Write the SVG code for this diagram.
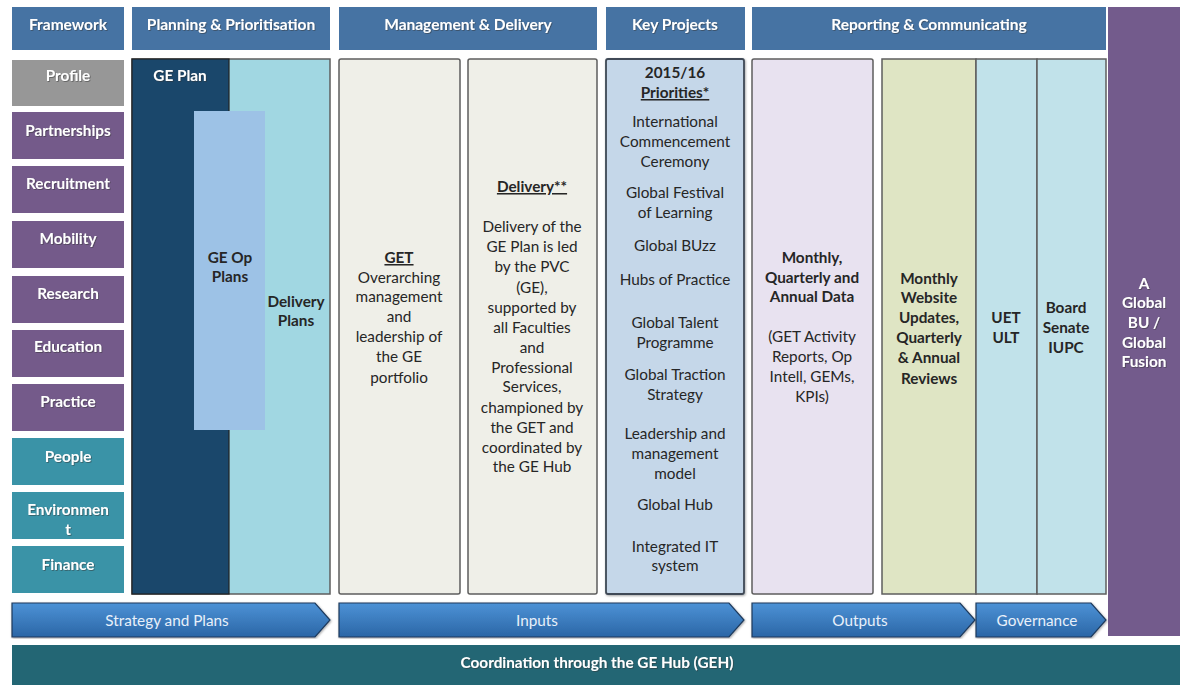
<svg xmlns="http://www.w3.org/2000/svg" width="1180" height="685" viewBox="0 0 1180 685">
  <defs>
    <linearGradient id="arrowFill" x1="0" y1="0" x2="0" y2="1">
      <stop offset="0" stop-color="#4d92d6"/>
      <stop offset="1" stop-color="#2b66a6"/>
    </linearGradient>
    <filter id="txtShadow" x="-10%" y="-30%" width="120%" height="160%">
      <feDropShadow dx="0.8" dy="0.8" stdDeviation="0.6" flood-color="#333" flood-opacity="0.6"/>
    </filter>
    <filter id="boxShadow" x="-5%" y="-5%" width="110%" height="110%">
      <feDropShadow dx="0.8" dy="1" stdDeviation="0.8" flood-color="#000" flood-opacity="0.35"/>
    </filter>
  </defs>
  <style>
    text { font-family: Lato, "Liberation Sans", sans-serif; text-anchor: middle; }
    .hdr { fill: #4673a3; }
    .hdrT { fill: #ffffff; font-size: 15.5px; font-weight: bold; filter: url(#txtShadow); }
    .fwT { fill: #ffffff; font-size: 15.3px; font-weight: bold; filter: url(#txtShadow); }
    .purple { fill: #745a8a; }
    .teal { fill: #3a93a7; }
    .grey { fill: #979797; }
    .body { fill: #262626; font-size: 15.3px; }
    .bold { font-weight: bold; }
    .ul { text-decoration: underline; }
    .panel { stroke: #5e5e5e; stroke-width: 1.5; }
    .arrow { fill: url(#arrowFill); stroke: #1e3a5c; stroke-width: 1.2; filter: url(#boxShadow); }
    .arrowT { fill: #e8f0fa; font-size: 15.3px; }
    .whiteB { fill: #ffffff; font-size: 15.3px; font-weight: bold; filter: url(#txtShadow); }
  </style>

  <rect width="1180" height="685" fill="#ffffff"/>

  <!-- column headers -->
  <g id="hdr-framework"><rect class="hdr" x="12" y="7" width="112" height="43"/><text class="hdrT" x="68" y="30">Framework</text></g>
  <g id="hdr-planning"><rect class="hdr" x="132" y="7" width="198" height="43"/><text class="hdrT" x="231" y="30">Planning &amp; Prioritisation</text></g>
  <g id="hdr-management"><rect class="hdr" x="339" y="7" width="258" height="43"/><text class="hdrT" x="468" y="30">Management &amp; Delivery</text></g>
  <g id="hdr-projects"><rect class="hdr" x="606" y="7" width="139" height="43"/><text class="hdrT" x="675" y="30">Key Projects</text></g>
  <g id="hdr-reporting"><rect class="hdr" x="752" y="7" width="354" height="43"/><text class="hdrT" x="929" y="30">Reporting &amp; Communicating</text></g>

  <!-- framework themes -->
  <g id="fw-profile"><rect class="grey" x="12" y="60" width="112" height="46"/><text class="fwT" x="68" y="81">Profile</text></g>
  <g id="fw-partnerships"><rect class="purple" x="12" y="112" width="112" height="47"/><text class="fwT" x="68" y="136">Partnerships</text></g>
  <g id="fw-recruitment"><rect class="purple" x="12" y="166" width="112" height="47"/><text class="fwT" x="68" y="189">Recruitment</text></g>
  <g id="fw-mobility"><rect class="purple" x="12" y="221" width="112" height="47"/><text class="fwT" x="68" y="244">Mobility</text></g>
  <g id="fw-research"><rect class="purple" x="12" y="276" width="112" height="47"/><text class="fwT" x="68" y="299">Research</text></g>
  <g id="fw-education"><rect class="purple" x="12" y="330" width="112" height="47"/><text class="fwT" x="68" y="352">Education</text></g>
  <g id="fw-practice"><rect class="purple" x="12" y="384" width="112" height="47"/><text class="fwT" x="68" y="407">Practice</text></g>
  <g id="fw-people"><rect class="teal" x="12" y="438" width="112" height="47"/><text class="fwT" x="68" y="462">People</text></g>
  <g id="fw-environment"><rect class="teal" x="12" y="492" width="112" height="47"/><text class="fwT" x="68" y="515">Environmen</text><text class="fwT" x="68" y="535">t</text></g>
  <g id="fw-finance"><rect class="teal" x="12" y="546" width="112" height="47"/><text class="fwT" x="68" y="570">Finance</text></g>

  <!-- planning: GE Plan, GE Op Plans, Delivery Plans -->
  <g id="delivery-plans">
    <rect x="132" y="59" width="198" height="535" fill="#a1d7e2" class="panel"/>
    <text class="body bold" x="296" y="307">Delivery</text>
    <text class="body bold" x="296" y="326">Plans</text>
  </g>
  <g id="ge-plan">
    <rect x="132" y="59" width="97" height="535" fill="#1a476b" stroke="#222" stroke-width="1.2"/>
    <text class="whiteB" x="180" y="81">GE Plan</text>
  </g>
  <g id="ge-op-plans">
    <rect x="194" y="111" width="71" height="319" fill="#9dc2e6"/>
    <text class="body bold" x="230" y="263">GE Op</text>
    <text class="body bold" x="230" y="282">Plans</text>
  </g>

  <!-- management & delivery -->
  <g id="get">
    <rect x="339" y="59" width="121" height="535" rx="2" fill="#efefe8" class="panel"/>
    <text class="body bold ul" x="399" y="263">GET</text>
    <text class="body" x="399" y="283">Overarching</text>
    <text class="body" x="399" y="302">management</text>
    <text class="body" x="399" y="322">and</text>
    <text class="body" x="399" y="342">leadership of</text>
    <text class="body" x="399" y="362">the GE</text>
    <text class="body" x="399" y="383">portfolio</text>
  </g>
  <g id="delivery">
    <rect x="468" y="59" width="129" height="535" rx="2" fill="#efefe8" class="panel"/>
    <text class="body bold ul" x="532" y="192">Delivery**</text>
    <text class="body" x="532" y="232">Delivery of the</text>
    <text class="body" x="532" y="252">GE Plan is led</text>
    <text class="body" x="532" y="272">by the PVC</text>
    <text class="body" x="532" y="293">(GE),</text>
    <text class="body" x="532" y="313">supported by</text>
    <text class="body" x="532" y="333">all Faculties</text>
    <text class="body" x="532" y="353">and</text>
    <text class="body" x="532" y="373">Professional</text>
    <text class="body" x="532" y="392">Services,</text>
    <text class="body" x="532" y="413">championed by</text>
    <text class="body" x="532" y="433">the GET and</text>
    <text class="body" x="532" y="453">coordinated by</text>
    <text class="body" x="532" y="472">the GE Hub</text>
  </g>

  <!-- key projects -->
  <g id="priorities">
    <rect x="606" y="59" width="138" height="535" rx="2" fill="#c5d7e9" stroke="#3f4a56" stroke-width="1.8" filter="url(#boxShadow)"/>
    <text class="body bold" x="675" y="78">2015/16</text>
    <text class="body bold ul" x="675" y="98">Priorities*</text>
    <text class="body" x="675" y="127">International</text>
    <text class="body" x="675" y="147">Commencement</text>
    <text class="body" x="675" y="167">Ceremony</text>
    <text class="body" x="675" y="198">Global Festival</text>
    <text class="body" x="675" y="218">of Learning</text>
    <text class="body" x="675" y="251">Global BUzz</text>
    <text class="body" x="675" y="285">Hubs of Practice</text>
    <text class="body" x="675" y="328">Global Talent</text>
    <text class="body" x="675" y="348">Programme</text>
    <text class="body" x="675" y="380">Global Traction</text>
    <text class="body" x="675" y="400">Strategy</text>
    <text class="body" x="675" y="439">Leadership and</text>
    <text class="body" x="675" y="459">management</text>
    <text class="body" x="675" y="479">model</text>
    <text class="body" x="675" y="510">Global Hub</text>
    <text class="body" x="675" y="552">Integrated IT</text>
    <text class="body" x="675" y="571">system</text>
  </g>

  <!-- reporting & communicating -->
  <g id="data">
    <rect x="752" y="59" width="121" height="535" rx="2" fill="#e8e2f0" class="panel"/>
    <text class="body bold" x="812" y="263">Monthly,</text>
    <text class="body bold" x="812" y="283">Quarterly and</text>
    <text class="body bold" x="812" y="302">Annual Data</text>
    <text class="body" x="812" y="342">(GET Activity</text>
    <text class="body" x="812" y="362">Reports, Op</text>
    <text class="body" x="812" y="382">Intell, GEMs,</text>
    <text class="body" x="812" y="402">KPIs)</text>
  </g>
  <g id="website">
    <rect x="882" y="59" width="94" height="535" fill="#dfe5c4" class="panel"/>
    <text class="body bold" x="929" y="284">Monthly</text>
    <text class="body bold" x="929" y="303">Website</text>
    <text class="body bold" x="929" y="323">Updates,</text>
    <text class="body bold" x="929" y="343">Quarterly</text>
    <text class="body bold" x="929" y="363">&amp; Annual</text>
    <text class="body bold" x="929" y="384">Reviews</text>
  </g>
  <g id="uet">
    <rect x="976" y="59" width="61" height="535" fill="#c1e2ea" class="panel"/>
    <text class="body bold" x="1006" y="323">UET</text>
    <text class="body bold" x="1006" y="343">ULT</text>
  </g>
  <g id="board">
    <rect x="1037" y="59" width="69" height="535" fill="#c1e2ea" class="panel"/>
    <text class="body bold" x="1066" y="313">Board</text>
    <text class="body bold" x="1066" y="333">Senate</text>
    <text class="body bold" x="1066" y="353">IUPC</text>
  </g>

  <!-- outcome column -->
  <g id="global-fusion">
    <rect x="1108" y="7" width="72" height="629" fill="#735b8c"/>
    <text class="whiteB" x="1144" y="289">A</text>
    <text class="whiteB" x="1144" y="308">Global</text>
    <text class="whiteB" x="1144" y="328">BU /</text>
    <text class="whiteB" x="1144" y="348">Global</text>
    <text class="whiteB" x="1144" y="367">Fusion</text>
  </g>

  <!-- flow chevrons -->
  <g id="connectors">
    <g id="flow-strategy">
      <polygon class="arrow" points="12,603 315,603 330,620 315,637 12,637"/>
      <text class="arrowT" x="167" y="626">Strategy and Plans</text>
    </g>
    <g id="flow-inputs">
      <polygon class="arrow" points="339,603 729,603 744,620 729,637 339,637"/>
      <text class="arrowT" x="537" y="626">Inputs</text>
    </g>
    <g id="flow-outputs">
      <polygon class="arrow" points="752,603 960,603 975,620 960,637 752,637"/>
      <text class="arrowT" x="860" y="626">Outputs</text>
    </g>
    <g id="flow-governance">
      <polygon class="arrow" points="976,603 1091,603 1106,620 1091,637 976,637"/>
      <text class="arrowT" x="1037" y="626">Governance</text>
    </g>
  </g>

  <!-- coordination bar -->
  <g id="coordination">
    <rect x="12" y="645" width="1168" height="40" fill="#236674"/>
    <text class="whiteB" x="597" y="668">Coordination through the GE Hub (GEH)</text>
  </g>
</svg>
